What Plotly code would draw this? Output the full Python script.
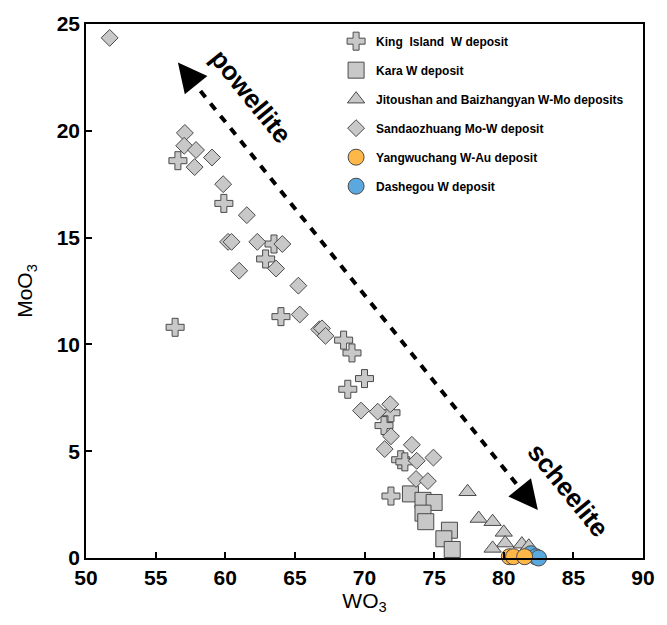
import plotly.graph_objects as go

# ---- data (WO3, MoO3 wt%) ----
king_x = [56.6, 59.9, 63.5, 62.9, 56.4, 64.0, 68.5, 69.1, 70.0, 68.8, 71.9, 71.4, 72.6, 72.9, 71.9]
king_y = [18.6, 16.6, 14.7, 14.0, 10.8, 11.3, 10.2, 9.6, 8.4, 7.9, 6.8, 6.2, 4.6, 4.5, 2.9]

kara_x = [73.3, 74.2, 75.0, 74.2, 74.4, 76.1, 75.7, 76.3]
kara_y = [3.0, 2.7, 2.6, 2.1, 1.7, 1.3, 0.9, 0.4]

jit_x = [77.4, 78.2, 79.2, 80.0, 80.1, 79.2, 81.3, 81.8]
jit_y = [3.1, 1.85, 1.7, 1.2, 0.7, 0.45, 0.65, 0.55]

sand_x = [51.7, 57.1, 57.05, 57.9, 59.05, 57.8, 59.85, 61.55, 60.2, 60.45, 62.3, 64.1,
          61.0, 63.65, 65.25, 65.35, 66.75, 66.95, 67.2, 69.75, 70.95, 71.85, 71.9, 71.45,
          73.4, 73.75, 74.95, 73.7, 74.55]
sand_y = [24.35, 19.9, 19.3, 19.1, 18.75, 18.3, 17.5, 16.05, 14.8, 14.8, 14.8, 14.7,
          13.45, 13.55, 12.75, 11.4, 10.7, 10.75, 10.4, 6.9, 6.85, 7.2, 5.7, 5.1,
          5.3, 4.55, 4.7, 3.7, 3.6]

yang_x = [80.4, 80.7, 81.5]
yang_y = [0.06, 0.06, 0.06]

dash_x = [81.95, 82.3, 82.5]
dash_y = [0.2, 0.06, 0.0]

GREY = "#c8c8c8"
EDGE = "#4a4a4a"
FONT = "Arial, Liberation Sans"

fig = go.Figure()

def add(name, xs, ys, symbol, size, color, rank):
    fig.add_trace(go.Scatter(
        x=xs, y=ys, mode="markers", name=name, legendgroup=name, legendrank=rank,
        cliponaxis=False,
        marker=dict(symbol=symbol, size=size, color=color,
                    line=dict(color=EDGE, width=1)),
    ))

add("King  Island  W deposit", king_x, king_y, "cross", 15, GREY, 1)
add("Kara W deposit", kara_x, kara_y, "square", 16, GREY, 2)
add("Jitoushan and Baizhangyan W-Mo deposits", jit_x, jit_y, "triangle-up", 15, GREY, 3)
add("Sandaozhuang Mo-W deposit", sand_x, sand_y, "diamond", 13, GREY, 4)
add("Dashegou W deposit", dash_x, dash_y, "circle", 16, "#5ba8de", 6)
add("Yangwuchang W-Au deposit", yang_x, yang_y, "circle", 16, "#fdb848", 5)

# dashed double arrow
fig.add_shape(type="line", xref="x", yref="y", x0=57.5, y0=22.45, x1=81.55, y1=2.95,
              line=dict(color="black", width=4, dash="8px,8px"))
for tx, ty, s in [(56.6, 23.2, 1), (82.45, 2.25, -1)]:
    fig.add_annotation(x=tx, y=ty, xref="x", yref="y", text="", showarrow=True,
                       ax=s * 0.627 * 16, ay=s * 0.779 * 16, axref="pixel", ayref="pixel",
                       arrowhead=2, arrowsize=1.45, arrowwidth=4, arrowcolor="black", standoff=0)

fig.add_annotation(x=61.85, y=21.65, xref="x", yref="y", text="<b>powellite</b>", showarrow=False,
                   textangle=51, font=dict(size=26, color="black", family=FONT))
fig.add_annotation(x=84.65, y=3.2, xref="x", yref="y", text="<b>scheelite</b>", showarrow=False,
                   textangle=51, font=dict(size=26, color="black", family=FONT))

axis_common = dict(showline=True, linecolor="black", linewidth=1.5, mirror=True,
                   ticks="inside", ticklen=6, tickwidth=1.5, tickcolor="black",
                   showgrid=False, zeroline=False,
                   tickfont=dict(size=21, color="black", family=FONT, weight="bold"))

fig.update_xaxes(range=[50, 90], dtick=5, tick0=50,
                 title=dict(text="WO<sub>3</sub>", font=dict(size=21, color="black", family=FONT), standoff=2),
                 **axis_common)
fig.update_yaxes(range=[0, 25], dtick=5, tick0=0,
                 title=dict(text="MoO<sub>3</sub>", font=dict(size=21, color="black", family=FONT), standoff=18),
                 **axis_common)

fig.update_layout(
    width=667, height=625,
    margin=dict(l=86, r=21, t=21, b=67),
    paper_bgcolor="white", plot_bgcolor="white",
    font=dict(family=FONT, color="black"),
    legend=dict(x=0.449, y=0.995, xanchor="left", yanchor="top",
                font=dict(size=12, color="black", family=FONT, weight="bold"),
                bgcolor="rgba(0,0,0,0)", borderwidth=0, tracegroupgap=10,
                itemsizing="trace"),
    showlegend=True,
)

fig.write_html("out.html")
